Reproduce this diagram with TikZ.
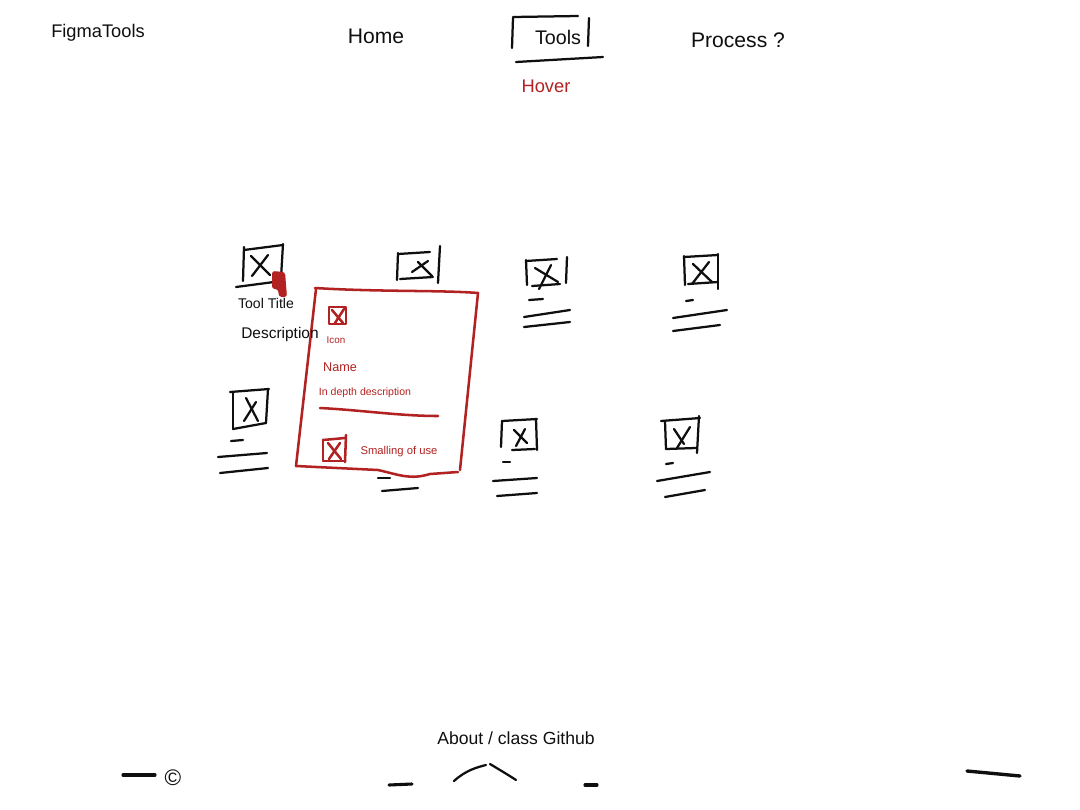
\documentclass[tikz,border=0pt]{standalone}
\usepackage{fontspec}
\setmainfont{Liberation Sans}
\definecolor{hred}{RGB}{178,34,34}
\definecolor{ink}{RGB}{15,15,15}
\tikzset{
  pen/.style={draw=ink,line width=1.6pt,line cap=round,line join=round},
  rpen/.style={draw=hred,line width=1.8pt,line cap=round,line join=round},
  lbl/.style={text=ink,inner sep=0pt,anchor=center},
  rlbl/.style={text=hred,inner sep=0pt,anchor=center},
}
\newcommand{\fs}[1]{\fontsize{#1}{#1}\selectfont}
\begin{document}
\begin{tikzpicture}[x=0.025cm,y=-0.025cm]
\useasboundingbox (0,0) rectangle (1080,810);
\fill[white] (0,0) rectangle (1080,810);

% header
\node[lbl] (logo) at (98,33) {\fs{13}FigmaTools};
\node[lbl] (home) at (376,36) {\fs{15}Home};
\node[lbl] (tools) at (558,37) {\fs{14}Tools};
\node[lbl] (proc) at (738,40) {\fs{15}Process ?};
\node[rlbl] (hover) at (546,86) {\fs{13}Hover};
\draw[pen] (513,18) -- (512,48);
\draw[pen] (513,17) -- (578,16);
\draw[pen] (589,18) -- (588,46);
\draw[pen] (516,62) -- (603,57);

% card 1 (top-left, hovered)
\draw[pen] (244,247) -- (243,281);
\draw[pen] (244,250) -- (283,245);
\draw[pen] (283,244) -- (281,278);
\draw[pen] (251,256) -- (270,275);
\draw[pen] (268,255) -- (252,276);
\draw[pen] (236,287) -- (274,282);
\fill[hred,rounded corners=2pt] (272,271) -- (285,272) -- (287,297) -- (279,297) -- (278,289) -- (272,289) -- cycle;
\node[lbl] (t1) at (266,303) {\fs{10}Tool Title};

% card 2
\draw[pen] (398,253) -- (397,280);
\draw[pen] (398,254) -- (430,252);
\draw[pen] (440,246) -- (438,283);
\draw[pen] (400,279) -- (433,277);
\draw[pen] (412,272) -- (428,261);
\draw[pen] (418,262) -- (432,276);

% card 3
\draw[pen] (526,260) -- (527,285);
\draw[pen] (526,261) -- (557,259);
\draw[pen] (567,257) -- (566,283);
\draw[pen] (532,286) -- (560,284);
\draw[pen] (535,268) -- (558,282);
\draw[pen] (551,265) -- (539,289);
\draw[pen] (529,300) -- (543,299);
\draw[pen] (524,317) -- (570,310);
\draw[pen] (524,327) -- (570,322);

% card 4
\draw[pen] (684,256) -- (685,285);
\draw[pen] (684,257) -- (718,255);
\draw[pen] (718,254) -- (718,289);
\draw[pen] (688,284) -- (718,282);
\draw[pen] (693,264) -- (712,282);
\draw[pen] (709,262) -- (692,284);
\draw[pen] (686,301) -- (693,300);
\draw[pen] (673,318) -- (727,310);
\draw[pen] (673,331) -- (720,325);

% card 5
\draw[pen] (230,392) -- (269,389);
\draw[pen] (233,392) -- (233,429);
\draw[pen] (268,389) -- (266,423);
\draw[pen] (233,429) -- (266,423);
\draw[pen] (246,398) -- (258,421);
\draw[pen] (256,402) -- (244,421);
\draw[pen] (231,441) -- (243,440);
\draw[pen] (218,457) -- (267,453);
\draw[pen] (220,473) -- (268,468);

% card 6 (mostly hidden)
\draw[pen] (378,478) -- (390,478);
\draw[pen] (382,491) -- (418,488);

% card 7
\draw[pen] (502,421) -- (537,419);
\draw[pen] (502,421) -- (501,447);
\draw[pen] (536,419) -- (537,450);
\draw[pen] (512,450) -- (535,449);
\draw[pen] (514,430) -- (527,443);
\draw[pen] (525,429) -- (516,446);
\draw[pen] (503,462) -- (510,462);
\draw[pen] (493,481) -- (537,478);
\draw[pen] (497,496) -- (537,493);

% card 8
\draw[pen] (661,421) -- (700,418);
\draw[pen] (665,421) -- (666,449);
\draw[pen] (699,416) -- (697,453);
\draw[pen] (666,449) -- (696,448);
\draw[pen] (674,429) -- (684,444);
\draw[pen] (690,427) -- (677,448);
\draw[pen] (666,464) -- (673,463);
\draw[pen] (657,481) -- (710,472);
\draw[pen] (665,497) -- (705,490);

% hover popup
\fill[white] (315,289) -- (478,293) -- (460,472) -- (296,467) -- cycle;
\draw[rpen] (315,288) .. controls (380,292) and (440,290) .. (478,293)
  -- (460,470);
\draw[rpen] (316,289) -- (296,466) -- (378,470)
  .. controls (400,475) and (410,480) .. (430,474)
  -- (458,472);
\draw[rpen] (329,307) rectangle (346,324);
\draw[rpen] (332,310) -- (343,323);
\draw[rpen] (344,309) -- (335,323);
\node[rlbl] (icon) at (336,340) {\fs{7}Icon};
\node[rlbl] (name) at (340,367) {\fs{9}Name};
\node[rlbl] (desc) at (365,393) {\fs{7.5}In depth description};
\draw[rpen] (320,408) .. controls (360,410) and (400,416) .. (438,416);
\draw[rpen] (323,440) -- (323,460);
\draw[rpen] (323,440) -- (345,438);
\draw[rpen] (346,435) -- (345,462);
\draw[rpen] (323,461) -- (345,461);
\draw[rpen] (328,443) -- (341,459);
\draw[rpen] (340,443) -- (329,459);
\node[rlbl] (smell) at (399,452) {\fs{8}Smalling of use};

% card 1 description, written over the popup edge
\node[lbl] (d1) at (280,334) {\fs{11}Description};

% footer
\node[lbl] (about) at (516,738) {\fs{12.5}About / class Github};
\draw[pen,line width=2.2pt] (123,775) -- (155,775);
\node[lbl] (copy) at (173,778) {\fs{16}©};
\draw[pen,line width=2.2pt] (389,785) -- (412,784);
\draw[pen] (454,781) .. controls (466,770) and (478,767) .. (486,765);
\draw[pen] (490,764) .. controls (500,770) and (510,776) .. (516,780);
\draw[pen,line width=2.2pt] (585,785) -- (597,785);
\draw[pen,line width=2.4pt] (967,771) -- (1020,776);
\end{tikzpicture}
\end{document}
